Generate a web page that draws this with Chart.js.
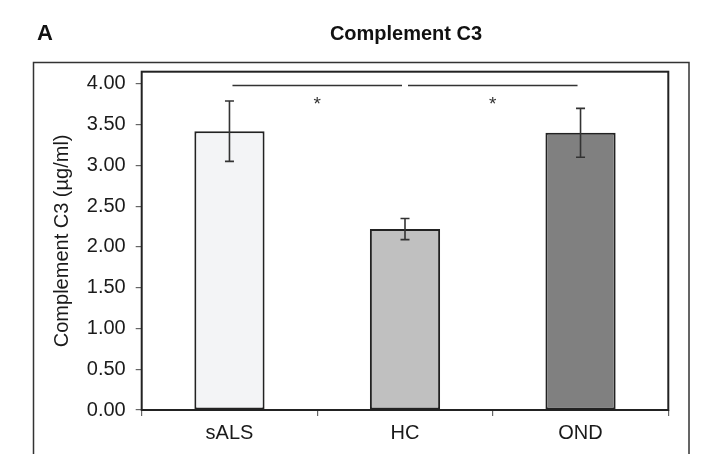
<!DOCTYPE html>
<html>
<head>
<meta charset="utf-8">
<script src="https://cdn.jsdelivr.net/npm/chart.js@4"></script>
<style>
  html, body { margin: 0; padding: 0; background: #ffffff; }
  #wrap { position: relative; width: 703px; height: 454px; }
</style>
</head>
<body>
<div id="wrap"><canvas id="c"></canvas></div>
<script>
// ---- data ----
const categories = ['sALS', 'HC', 'OND'];
const meanValues = [3.42, 2.22, 3.40];
const errorValues = [0.37, 0.13, 0.30];
const yTickValues = [0, 0.5, 1, 1.5, 2, 2.5, 3, 3.5, 4];
const sigPairs = [[0, 1], [1, 2]];
const sigLabels = ['*', '*'];
const sigLineValue = 3.98;
const sigStarValue = 3.80;
const chartTitle = 'Complement C3';
const panelLetter = 'A';
const yAxisTitle = 'Complement C3 (µg/ml)';

// ---- styles ----
const barColors = ['#f3f4f6', '#c0c0c0', '#808080'];
const FONT = "'Liberation Sans', Arial, Helvetica, sans-serif";
const INK = '#1a1a1a';

const decorPlugin = {
  id: 'decor',
  afterDatasetsDraw(chart) {
    const ctx = chart.ctx;
    const x = chart.scales.x, y = chart.scales.y;
    const meta = chart.getDatasetMeta(0);
    ctx.save();
    // error bars
    ctx.strokeStyle = '#333';
    ctx.lineWidth = 1.6;
    meta.data.forEach((bar, i) => {
      const cx = bar.x;
      const top = y.getPixelForValue(meanValues[i] + errorValues[i]);
      const bot = y.getPixelForValue(meanValues[i] - errorValues[i]);
      ctx.beginPath();
      ctx.moveTo(cx, top); ctx.lineTo(cx, bot);
      ctx.moveTo(cx - 4.5, top); ctx.lineTo(cx + 4.5, top);
      ctx.moveTo(cx - 4.5, bot); ctx.lineTo(cx + 4.5, bot);
      ctx.stroke();
    });
    // significance lines
    ctx.strokeStyle = '#333';
    ctx.lineWidth = 1.6;
    ctx.fillStyle = '#333';
    ctx.font = '19px ' + FONT;
    ctx.textAlign = 'center';
    ctx.textBaseline = 'middle';
    sigPairs.forEach((p, k) => {
      const x1 = x.getPixelForValue(p[0]) + 3;
      const x2 = x.getPixelForValue(p[1]) - 3;
      const ly = y.getPixelForValue(sigLineValue);
      ctx.beginPath();
      ctx.moveTo(x1, ly); ctx.lineTo(x2, ly);
      ctx.stroke();
      const mx = (x.getPixelForValue(p[0]) + x.getPixelForValue(p[1])) / 2;
      ctx.fillText(sigLabels[k], mx, y.getPixelForValue(sigStarValue) + 5);
    });
    ctx.restore();
  },
  afterDraw(chart) {
    const ctx = chart.ctx;
    const a = chart.chartArea;
    ctx.save();
    // plot-area frame
    ctx.strokeStyle = '#222';
    ctx.lineWidth = 2;
    ctx.strokeRect(a.left, a.top, a.right - a.left, a.bottom - a.top);
    // outer frame
    ctx.strokeStyle = '#333';
    ctx.lineWidth = 1.5;
    ctx.strokeRect(33.5, 62.5, 655.5, 420);
    // titles
    ctx.fillStyle = '#111';
    ctx.textBaseline = 'middle';
    ctx.textAlign = 'left';
    ctx.font = 'bold 22px ' + FONT;
    ctx.fillText(panelLetter, 37, 34);
    ctx.textAlign = 'center';
    ctx.font = 'bold 20px ' + FONT;
    ctx.fillText(chartTitle, 406, 34);
    ctx.restore();
  }
};

new Chart(document.getElementById('c'), {
  type: 'bar',
  data: {
    labels: categories,
    datasets: [{
      data: meanValues,
      backgroundColor: barColors,
      borderColor: '#222',
      borderWidth: 2,
      borderSkipped: false,
      barPercentage: 0.4,
      categoryPercentage: 1.0
    }]
  },
  options: {
    responsive: true,
    maintainAspectRatio: false,
    animation: false,
    layout: { padding: { left: 0, right: 34.7, top: 71.7, bottom: 0 } },
    plugins: { legend: { display: false }, tooltip: { enabled: false }, title: { display: false } },
    scales: {
      x: {
        grid: { display: true, drawOnChartArea: false, drawTicks: true, tickLength: 6, color: '#666', lineWidth: 1.2, offset: true },
        border: { display: false },
        ticks: { color: INK, font: { family: FONT, size: 20 }, padding: 5 },
        afterFit: (s) => { s.height = 44; }
      },
      y: {
        min: 0,
        max: 4.15,
        afterBuildTicks: (s) => { s.ticks = yTickValues.map(v => ({ value: v })); },
        grid: { display: true, drawOnChartArea: false, drawTicks: true, tickLength: 6, color: '#666', lineWidth: 1.2 },
        border: { display: false },
        ticks: { color: INK, font: { family: FONT, size: 20 }, padding: 10, callback: (v) => Number(v).toFixed(2) },
        title: { display: true, text: yAxisTitle, color: INK, font: { family: FONT, size: 20 }, padding: { top: 50, bottom: 0 } },
        afterFit: (s) => { s.width = 141.7; }
      }
    }
  },
  plugins: [decorPlugin]
});
</script>
</body>
</html>
